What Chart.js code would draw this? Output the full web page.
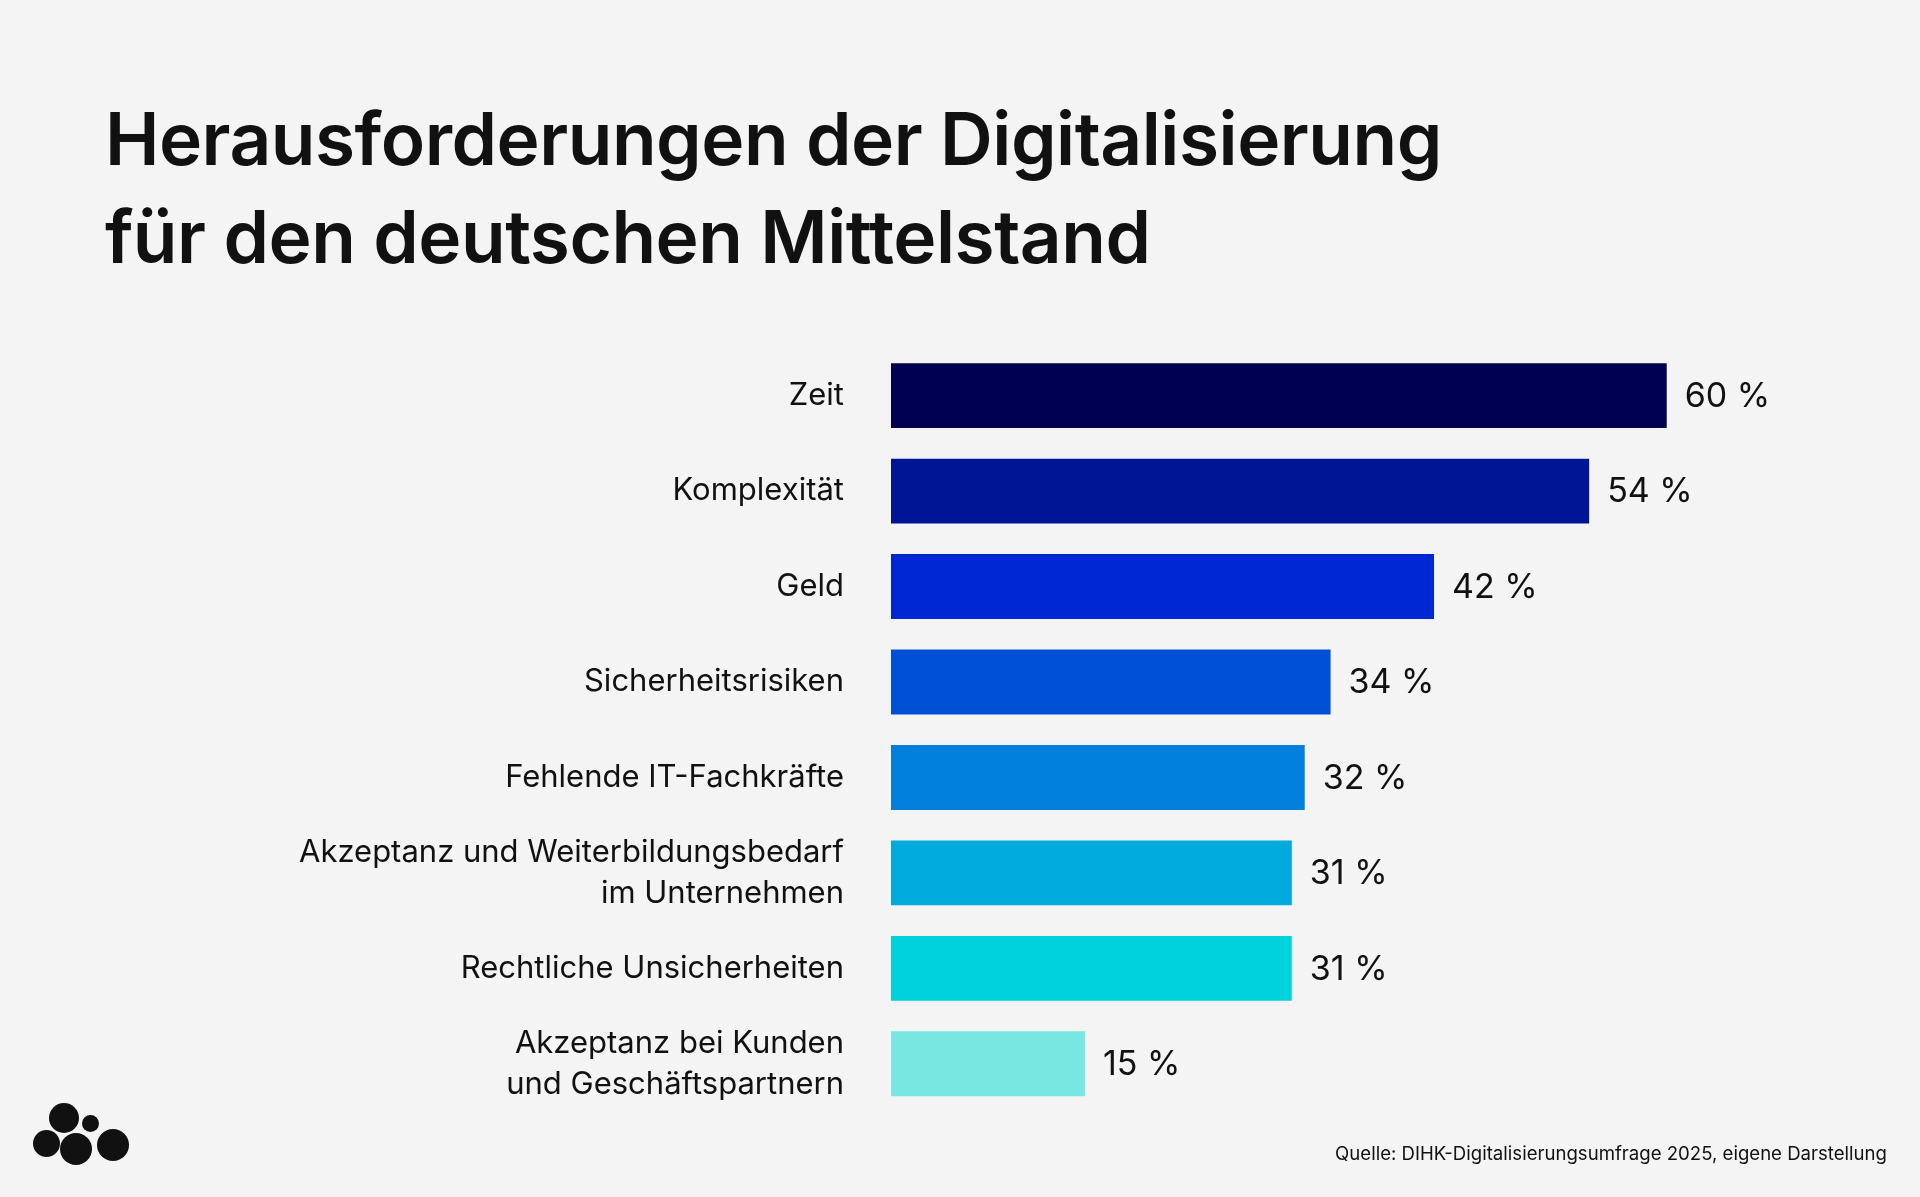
<!DOCTYPE html>
<html>
<head>
<meta charset="utf-8">
<script src="https://cdn.jsdelivr.net/npm/chart.js@4"></script>
<style>
  body { margin:0; background:#f4f4f4; width:1920px; height:1197px; overflow:hidden; font-family:Inter, "Noto Sans", sans-serif; position:relative; }
  h1 { position:absolute; left:105px; top:90px; margin:0; font-size:73px; font-weight:600; line-height:98px; color:#111; letter-spacing:-0.5px; }
  #wrap { position:absolute; left:0; top:268px; width:1920px; height:903px; }
  .src { position:absolute; right:33px; top:1142px; font-size:18.6px; color:#111; }
  .dot { position:absolute; background:#111; border-radius:50%; }
</style>
</head>
<body>
<h1>Herausforderungen der Digitalisierung<br>für den deutschen Mittelstand</h1>
<div id="wrap"><canvas id="myChart"></canvas></div>
<div class="src">Quelle: DIHK-Digitalisierungsumfrage 2025, eigene Darstellung</div>
<div class="dot" style="left:49px;top:1103px;width:30px;height:30px"></div>
<div class="dot" style="left:82px;top:1115px;width:17px;height:17px"></div>
<div class="dot" style="left:33px;top:1130px;width:27px;height:27px"></div>
<div class="dot" style="left:60px;top:1133px;width:32px;height:32px"></div>
<div class="dot" style="left:97px;top:1129px;width:32px;height:32px"></div>
<script>
var kategorien = ['Zeit', 'Komplexität', 'Geld', 'Sicherheitsrisiken', 'Fehlende IT-Fachkräfte',
  ['Akzeptanz und Weiterbildungsbedarf', 'im Unternehmen'], 'Rechtliche Unsicherheiten',
  ['Akzeptanz bei Kunden', 'und Geschäftspartnern']];
var werte = [60, 54, 42, 34, 32, 31, 31, 15];
var farben = ['#000050', '#001496', '#0028d2', '#0050d7', '#0080dc', '#00aadc', '#00d2dc', '#78e6e1'];

const ctx = document.getElementById('myChart').getContext('2d');

const wertLabels = {
  id: 'wertLabels',
  afterDatasetsDraw(chart) {
    const c = chart.ctx;
    const meta = chart.getDatasetMeta(0);
    c.save();
    c.font = '34px Inter, "Noto Sans", sans-serif';
    c.fillStyle = '#111';
    c.textBaseline = 'middle';
    meta.data.forEach((bar, i) => {
      c.fillText(werte[i] + ' %', bar.x + 18, bar.y + 1);
    });
    c.restore();
  }
};

const myChart = new Chart(ctx, {
  type: 'bar',
  data: {
    labels: kategorien,
    datasets: [{
      data: werte,
      backgroundColor: farben,
      barPercentage: 0.68,
      categoryPercentage: 1
    }]
  },
  options: {
    indexAxis: 'y',
    responsive: true,
    maintainAspectRatio: false,
    animation: false,
    layout: { padding: { top: 47, bottom: 39, right: 124, left: 0 } },
    plugins: { legend: { display: false }, tooltip: { enabled: false } },
    scales: {
      x: { display: false, min: 0, max: 70 },
      y: {
        grid: { display: false },
        border: { display: false },
        ticks: {
          color: '#111',
          padding: 39,
          font: { size: 31, family: 'Inter, "Noto Sans", sans-serif', lineHeight: 1.32 }
        },
        afterFit(scale) { scale.width = 891; }
      }
    }
  },
  plugins: [wertLabels]
});
</script>
</body>
</html>
